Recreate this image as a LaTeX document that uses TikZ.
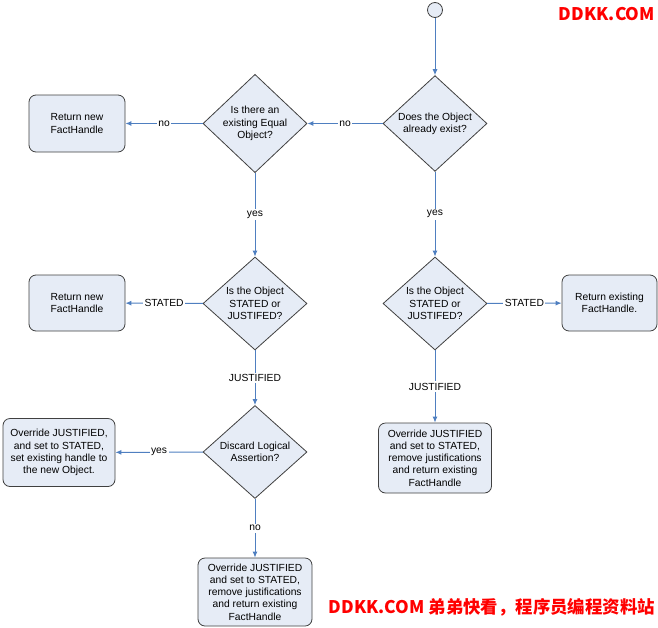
\documentclass[tikz,border=0pt]{standalone}
\usepackage{fontspec}
\setmainfont{Liberation Sans}
\newfontfamily\cjk{Noto Sans CJK SC}
\usetikzlibrary{shapes.geometric,arrows.meta}
\definecolor{fillblue}{HTML}{E6ECF6}
\definecolor{linegray}{HTML}{404040}
\definecolor{arrowblue}{HTML}{4F7FC0}
\definecolor{wmred}{HTML}{FF0000}
\tikzset{
  txt/.style={font=\fontsize{10.3}{12.3}\selectfont, align=center, text=black},
  decision/.style={txt, diamond, draw=linegray, fill=fillblue, line width=0.8pt,
    inner sep=0pt, minimum width=104pt, minimum height=93pt},
  action/.style={txt, rectangle, rounded corners=7pt, draw=linegray, fill=fillblue,
    line width=0.8pt, inner sep=0pt},
  startnode/.style={circle, draw=linegray, fill=fillblue, line width=0.8pt, minimum size=15pt, inner sep=0pt},
  flow/.style={draw=arrowblue, line width=1pt, -{Latex[length=6pt,width=5pt]}},
  lbl/.style={txt, fill=white, inner sep=1.5pt},
  wm/.style={font=\cjk\bfseries\fontsize{17.4}{20}\selectfont, text=wmred, inner sep=0pt}
}
\begin{document}
\begin{tikzpicture}[x=1pt,y=-1pt]
\useasboundingbox (0,0) rectangle (658,627);
% nodes
\node[startnode] (start) at (435,10) {};
\node[decision] (d1) at (435,123.5) {Does the Object\\already exist?};
\node[decision] (d2) at (255,123.5) {Is there an\\existing Equal\\Object?};
\node[action, minimum width=96pt, minimum height=57pt] (b1) at (77,123.5) {Return new\\FactHandle};
\node[decision] (d3) at (255,303.5) {Is the Object\\STATED or\\JUSTIFED?};
\node[action, minimum width=96pt, minimum height=56pt] (b2) at (77,303) {Return new\\FactHandle};
\node[decision] (d5) at (435,303.5) {Is the Object\\STATED or\\JUSTIFED?};
\node[action, minimum width=95pt, minimum height=56pt] (b3) at (609.5,303) {Return existing\\FactHandle.};
\node[decision] (d4) at (255,452) {Discard Logical\\Assertion?};
\node[action, minimum width=112pt, minimum height=68pt] (b4) at (59,452.5) {Override JUSTIFIED,\\and set to STATED,\\set existing handle to\\the new Object.};
\node[action, minimum width=113pt, minimum height=70pt] (b5) at (435,458) {Override JUSTIFIED\\and set to STATED,\\remove justifications\\and return existing\\FactHandle};
\node[action, minimum width=114pt, minimum height=68pt] (b6) at (255,592) {Override JUSTIFIED\\and set to STATED,\\remove justifications\\and return existing\\FactHandle};
% connectors
\draw[flow] (start) -- (d1);
\draw[flow] (d1) -- node[lbl] {no} (d2);
\draw[flow] (d2) -- node[lbl] {no} (b1);
\draw[flow] (d2) -- node[lbl] {yes} (d3);
\draw[flow] (d1) -- node[lbl] {yes} (d5);
\draw[flow] (d3) -- node[lbl] {STATED} (b2);
\draw[flow] (d5) -- node[lbl] {STATED} (b3);
\draw[flow] (d3) -- node[lbl] {JUSTIFIED} (d4);
\draw[flow] (d5) -- node[lbl] {JUSTIFIED} (b5);
\draw[flow] (d4) -- node[lbl] {yes} (b4);
\draw[flow] (d4) -- node[lbl] {no} (b6);
% watermarks
\node[wm, anchor=east] (wm1) at (655,14) {DDKK.COM};
\node[wm, anchor=east] (wm2) at (655,607) {DDKK.COM 弟弟快看，程序员编程资料站};
\end{tikzpicture}
\end{document}
